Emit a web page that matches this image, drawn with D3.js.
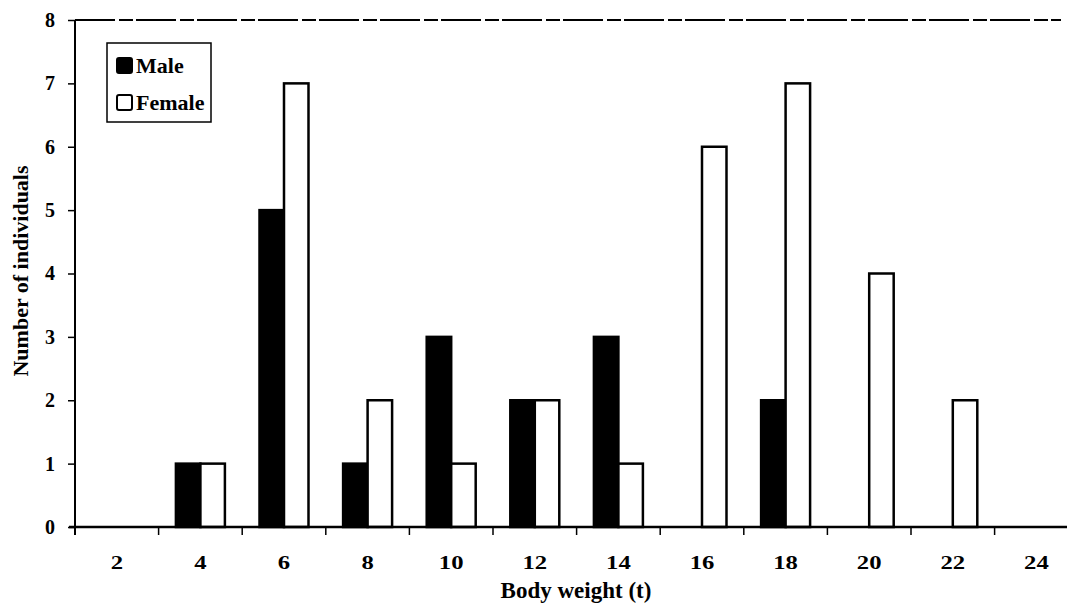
<!DOCTYPE html>
<html>
<head>
<meta charset="utf-8">
<script src="https://cdn.jsdelivr.net/npm/d3@7"></script>
<style>
body{margin:0;background:#fff;}
text{font-family:"Liberation Serif","Times New Roman",serif;fill:#000;}
</style>
</head>
<body>
<script>
var svgWidth=1067;
var svgHeight=616;
var margin = {top:20, right:0, bottom:89, left:75};
var width = svgWidth-margin.left-margin.right;
var height = svgHeight-margin.top-margin.bottom;

// data
var weights = ["2","4","6","8","10","12","14","16","18","20","22","24"];
var male   = [0,1,5,1,3,2,3,0,2,0,0,0];
var female = [0,1,7,2,1,2,1,6,7,4,2,0];
var series = ["Male","Female"];
var yTicks = [0,1,2,3,4,5,6,7,8];

var rows = weights.map((w,i) => ({w:w, Male:male[i], Female:female[i]}));

var svg = d3.select("body").append("svg").attr("width", svgWidth).attr("height", svgHeight);
var chart = svg.append("g").attr("transform", `translate(${margin.left}, ${margin.top})`);

var step = 83.6;
var x0 = d3.scaleBand().domain(weights).range([0, step*weights.length]).paddingInner(0.414).paddingOuter(0.207);
var x1 = d3.scaleBand().domain(series).range([0, x0.bandwidth()]);
var y = d3.scaleLinear().domain([0, 8]).range([height, 0]);
var fill = {Male:"#000", Female:"#fff"};

// bars
chart.selectAll(".grp").data(rows).enter().append("g").attr("class","grp")
  .attr("transform", d => `translate(${x0(d.w)},0)`)
  .selectAll("rect").data(d => series.map(k => ({k:k, v:d[k]})).filter(e => e.v > 0)).enter().append("rect")
  .attr("x", d => x1(d.k)).attr("y", d => y(d.v))
  .attr("width", x1.bandwidth()).attr("height", d => y(0)-y(d.v))
  .attr("fill", d => fill[d.k]).attr("stroke", "#000").attr("stroke-width", 2.5);

// y axis
var yAxis = d3.axisLeft(y).tickValues(yTicks).tickSize(7).tickPadding(13).tickFormat(d3.format("d"));
var gy = chart.append("g").call(yAxis);
gy.select(".domain").remove();
gy.selectAll("line").attr("stroke-width", 1.5);
gy.selectAll("text").attr("font-size", "20px").attr("font-weight", "bold");
chart.append("line").attr("x1",0).attr("x2",0).attr("y1",y(8)).attr("y2",y(0)+8).attr("stroke","#000").attr("stroke-width",2);

// x axis (labels in the scan are wide, so stretch them a little)
var gx = chart.append("g").attr("transform", `translate(0, ${height})`).call(d3.axisBottom(x0).tickSize(0).tickPadding(29));
gx.select(".domain").remove();
gx.selectAll("text").attr("font-size", "19px").attr("font-weight", "bold").attr("transform", "scale(1.3,1)");
chart.append("line").attr("x1",-6).attr("x2",width).attr("y1",y(0)).attr("y2",y(0)).attr("stroke","#000").attr("stroke-width",2.5);
var bounds = d3.range(weights.length).map(i => x0.step()*i).slice(1);
chart.selectAll(".xt").data(bounds).enter().append("line").attr("class","xt")
  .attr("x1", d => d).attr("x2", d => d).attr("y1", y(0)).attr("y2", y(0)+8)
  .attr("stroke","#000").attr("stroke-width",1.5);

// top border
chart.append("line").attr("x1",0).attr("x2",width-6).attr("y1",y(8)).attr("y2",y(8))
  .attr("stroke","#000").attr("stroke-width",2).attr("stroke-dasharray","40,4,14,3");

// legend
var lg = chart.append("g").attr("transform", "translate(32, 23)");
lg.append("rect").attr("width",104).attr("height",79).attr("fill","#fff").attr("stroke","#000").attr("stroke-width",1.5);
var li = lg.selectAll(".li").data(series).enter().append("g").attr("class","li")
  .attr("transform", (d,i) => `translate(10, ${15+i*37})`);
li.append("rect").attr("width",15).attr("height",15).attr("rx",2).attr("fill", d => fill[d]).attr("stroke","#000").attr("stroke-width",2);
li.append("text").attr("x",19).attr("y",14.5).attr("font-size","22px").attr("font-weight","bold").text(d => d);

// axis titles
chart.append("text").attr("x", 501).attr("y", height+71).attr("text-anchor","middle")
  .attr("font-size","23px").attr("font-weight","bold").text("Body weight (t)");
chart.append("text").attr("transform", "rotate(-90)").attr("x", -251).attr("y", -margin.left+28)
  .attr("text-anchor","middle").attr("font-size","22px").attr("font-weight","bold").text("Number of individuals");
</script>
</body>
</html>
